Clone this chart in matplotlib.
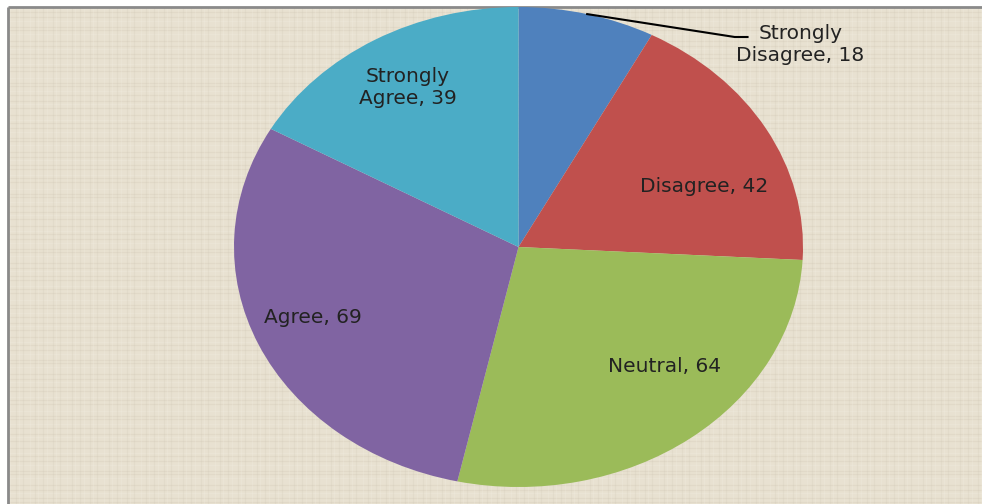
import numpy as np
import matplotlib.pyplot as plt
from matplotlib.patches import Rectangle

# Survey responses
categories = ["Strongly\nDisagree", "Disagree", "Neutral", "Agree", "Strongly\nAgree"]
counts = [18, 42, 64, 69, 39]
colors = ["#4F81BD", "#C0504D", "#9BBB59", "#8064A2", "#4BACC6"]

# Label centres in pie axes coordinates (radius 1 ellipse)
label_pos = [(0.99, 0.845), (0.653, 0.25), (0.512, -0.50), (-0.723, -0.292), (-0.389, 0.665)]

W, H = 982, 504
fig = plt.figure(figsize=(W / 100, H / 100), dpi=100)
fig.patch.set_facecolor("white")

# Canvas background with a thin grey frame on top and left
bg = fig.add_axes([0, 0, 1, 1])
bg.set_xlim(0, W)
bg.set_ylim(H, 0)
bg.axis("off")
bg.add_patch(Rectangle((8, 7), W - 8, H - 7, facecolor="#E8E1D1", edgecolor="none"))
# faint woven lines over the canvas, uneven steps so it reads like cloth
steps = [3, 5, 4, 6, 3, 4, 7, 5]
y, i = 9, 0
while y < H:
    bg.plot([8, W], [y, y], color="#C9BFAC" if i % 3 else "#F4EFE5", lw=0.9, alpha=0.22)
    y += steps[i % len(steps)]
    i += 1
x, i = 10, 0
while x < W:
    bg.plot([x, x], [7, H], color="#CCC3B1" if i % 2 else "#F6F1E7", lw=0.9, alpha=0.2)
    x += steps[(i + 3) % len(steps)]
    i += 1
bg.plot([8, W], [7, 7], color="#8A8A8A", lw=2, solid_capstyle="butt")
bg.plot([8, 8], [7, H], color="#8A8A8A", lw=2, solid_capstyle="butt")

# Pie drawn into a non-square axes so it comes out elliptical
ax = fig.add_axes([234 / W, (H - 487) / H, 569 / W, 480 / H])
wedges, _ = ax.pie(counts, colors=colors, startangle=90, counterclock=False,
                   radius=1, wedgeprops=dict(linewidth=0))
ax.set_aspect("auto")
ax.set_xlim(-1, 1)
ax.set_ylim(-1, 1)
ax.axis("off")

for name, val, (x, y) in zip(categories, counts, label_pos):
    ax.text(x, y, f"{name}, {val}", ha="center", va="center", fontsize=14.5,
            family="DejaVu Sans", color="#222222", linespacing=1.2)

# Leader line for the small first slice
mid = np.deg2rad(90 - counts[0] / sum(counts) * 180)
sx, sy = np.cos(mid), np.sin(mid)
ax.plot([sx, 0.76, 0.805], [sy, 0.875, 0.875], color="black", lw=1.5, clip_on=False)

fig.savefig("out.png", dpi=100)
